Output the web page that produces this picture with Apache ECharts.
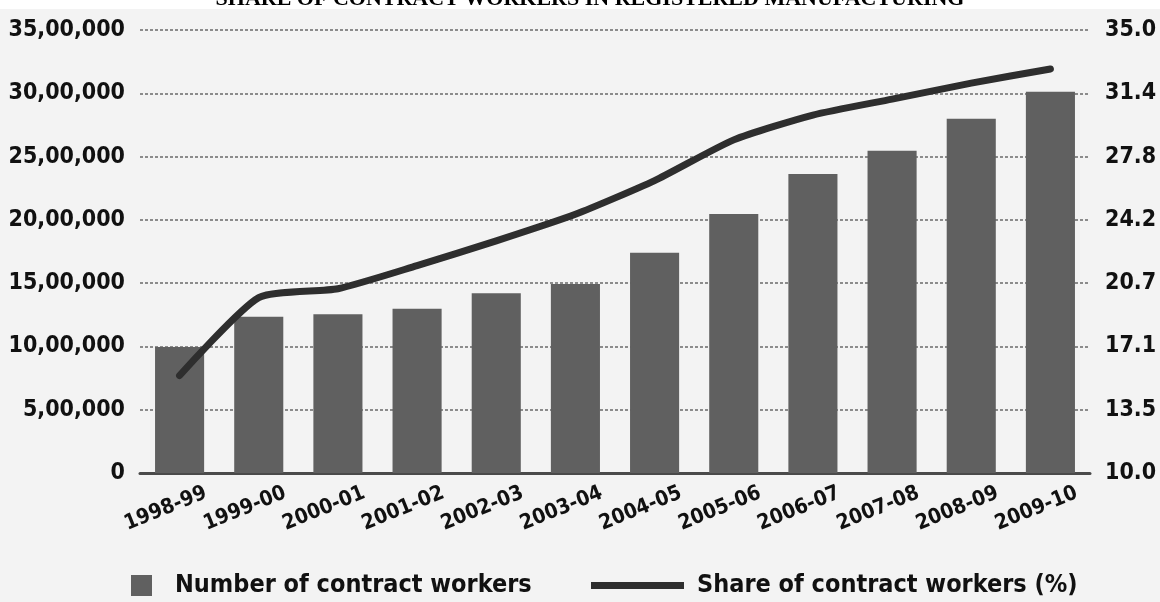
<!DOCTYPE html>
<html>
<head>
<meta charset="utf-8">
<script src="https://cdn.jsdelivr.net/npm/echarts@6/dist/echarts.min.js"></script>
<style>
  html, body { margin: 0; padding: 0; background: #ffffff; }
  #chart { width: 1160px; height: 602px; }
</style>
</head>
<body>
<div id="chart"></div>
<script>
// Contract labour in registered manufacturing, 1998-99 to 2009-10
const years = ['1998-99', '1999-00', '2000-01', '2001-02', '2002-03', '2003-04',
               '2004-05', '2005-06', '2006-07', '2007-08', '2008-09', '2009-10'];
const contractWorkers = [995000, 1235000, 1255000, 1298000, 1420000, 1493000,
                         1740000, 2046000, 2362000, 2546000, 2799000, 3012000];
const contractShare = [15.5, 19.9, 20.4, 21.7, 23.1, 24.6,
                       26.5, 28.8, 30.2, 31.1, 32.0, 32.8];

const titleText = 'SHARE OF CONTRACT WORKERS IN REGISTERED MANUFACTURING';
const barName = 'Number of contract workers';
const lineName = 'Share of contract workers (%)';

const narrow = '"DejaVu Sans Condensed", "Liberation Sans Narrow", sans-serif';

// Indian digit grouping: 35,00,000
function indianFormat(v) {
  const s = String(Math.round(v));
  if (s.length <= 3) return s;
  const last3 = s.slice(-3);
  const rest = s.slice(0, -3).replace(/\B(?=(\d{2})+(?!\d))/g, ',');
  return rest + ',' + last3;
}
// share axis shows values cut to one decimal
function shareFormat(v) {
  return (Math.floor(v * 10 + 1e-6) / 10).toFixed(1);
}

const chart = echarts.init(document.getElementById('chart'), null, { renderer: 'canvas' });

chart.setOption({
  backgroundColor: '#ffffff',
  animation: false,
  graphic: [
    {
      type: 'rect', z: -10, silent: true,
      shape: { x: 0, y: 9, width: 1160, height: 593 },
      style: { fill: '#f3f3f3' }
    },
    {
      type: 'text', z: 10, silent: true,
      x: 590, y: -1,
      style: {
        text: titleText,
        align: 'center', verticalAlign: 'middle',
        font: 'bold 22px "Liberation Serif", "Times New Roman", serif',
        fill: '#000000'
      }
    }
  ],
  grid: { left: 140, right: 70, top: 30, bottom: 129, containLabel: false, outerBoundsMode: 'none' },
  legend: [
    {
      data: [barName], selectedMode: false,
      left: 126, top: 568,
      icon: 'rect', itemWidth: 21, itemHeight: 21,
      textStyle: { fontFamily: narrow, fontWeight: 'bold', fontSize: 25, color: '#111', padding: [0, 0, 0, 18] }
    },
    {
      data: [lineName], selectedMode: false,
      left: 586, top: 568,
      icon: 'rect', itemWidth: 93, itemHeight: 7,
      textStyle: { fontFamily: narrow, fontWeight: 'bold', fontSize: 25, color: '#111', padding: [0, 0, 0, 8] }
    }
  ],
  xAxis: {
    type: 'category',
    data: years,
    axisTick: { show: false },
    axisLine: { lineStyle: { color: '#4a4a4a', width: 3 } },
    axisLabel: {
      interval: 0, rotate: 22, align: 'center', margin: 30,
      padding: [0, 30, 0, 0],
      fontFamily: narrow, fontWeight: 'bold', fontSize: 21, color: '#111'
    }
  },
  yAxis: [
    {
      type: 'value', min: 0, max: 3500000, interval: 500000,
      axisLine: { show: false }, axisTick: { show: false },
      axisLabel: {
        margin: 15, formatter: indianFormat,
        fontFamily: narrow, fontWeight: 'bold', fontSize: 23, color: '#111'
      },
      splitLine: { lineStyle: { color: '#6a6a6a', width: 1.5, type: [3, 2] } }
    },
    {
      type: 'value', min: 10, max: 35, interval: 25 / 7,
      axisLine: { show: false }, axisTick: { show: false },
      axisLabel: {
        margin: 15, formatter: shareFormat,
        fontFamily: narrow, fontWeight: 'bold', fontSize: 23, color: '#111'
      },
      splitLine: { show: false }
    }
  ],
  series: [
    {
      name: barName, type: 'bar', yAxisIndex: 0,
      data: contractWorkers, barWidth: '62%',
      itemStyle: { color: '#606060' }
    },
    {
      name: lineName, type: 'line', yAxisIndex: 1,
      data: contractShare, smooth: 0.2, symbol: 'none', z: 5,
      lineStyle: { color: '#2e2e2e', width: 7, cap: 'round', join: 'round' },
      itemStyle: { color: '#2e2e2e' }
    }
  ]
});
</script>
</body>
</html>
